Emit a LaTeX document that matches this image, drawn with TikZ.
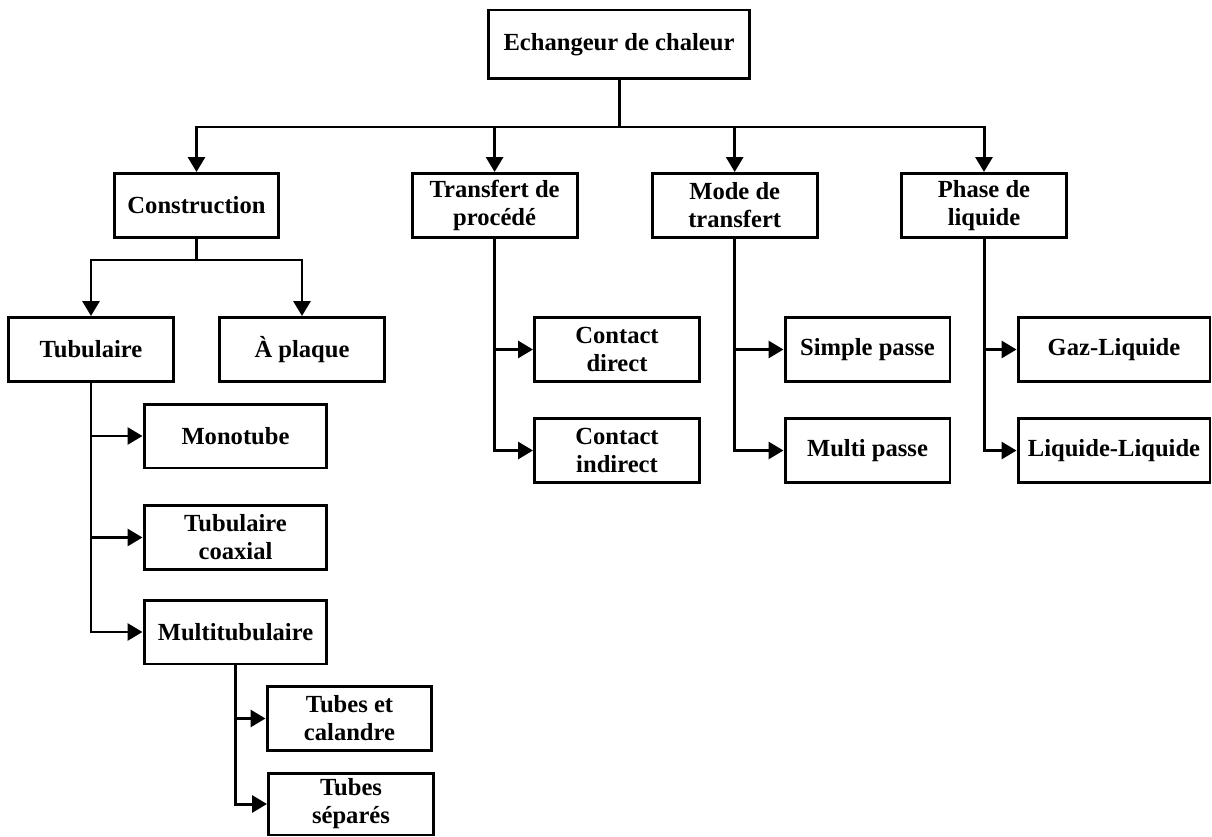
\documentclass[tikz,border=0pt]{standalone}
\usepackage{fontspec}
\setmainfont{Liberation Serif}
\usetikzlibrary{arrows.meta}

\begin{document}
\begin{tikzpicture}[x=0.02cm,y=-0.02cm,line width=1.7pt,font=\bfseries\fontsize{14}{16}\selectfont,
  box/.style={draw,align=center,inner sep=0pt,minimum width=3.3cm,minimum height=1.28cm},
  arr/.style={-{Triangle[length=0.3cm,width=0.34cm]}}]
\useasboundingbox (0,0) rectangle (1212,837);
\node[box,minimum width=5.24cm,minimum height=1.38cm] (ech) at (619,44.5) {Echangeur de chaleur};
\node[box] (constr) at (196.5,205.5) {Construction};
\node[box] (transf) at (494.6,205.5) {Transfert de\\procédé};
\node[box] (mode) at (734.7,205.5) {Mode de\\transfert};
\node[box] (phase) at (984,205.5) {Phase de\\liquide};
\node[box] (tubul) at (91,349.5) {Tubulaire};
\node[box] (plaque) at (302,349.5) {À plaque};
\node[box] (cdir) at (617,349.5) {Contact\\direct};
\node[box] (cindir) at (617,450.5) {Contact\\indirect};
\node[box] (simple) at (867.5,349.5) {Simple passe};
\node[box] (multi) at (867.5,450.5) {Multi passe};
\node[box,minimum width=3.84cm] (gaz) at (1114,349.5) {Gaz-Liquide};
\node[box,minimum width=3.84cm] (liqliq) at (1114,450.5) {Liquide-Liquide};
\node[box,minimum width=3.66cm] (mono) at (235.5,436) {Monotube};
\node[box,minimum width=3.66cm] (coax) at (235.5,537.5) {Tubulaire\\coaxial};
\node[box,minimum width=3.66cm] (multitub) at (235.5,632) {Multitubulaire};
\node[box] (caland) at (349.5,718.5) {Tubes et\\calandre};
\node[box,minimum height=1.24cm] (separ) at (351,804) {Tubes\\séparés};
\coordinate (hub) at (619,127);
\coordinate (chub) at (196.5,260);
\draw (ech) -- (hub);
\draw[arr] (hub) -| (constr);
\draw[arr] (hub) -| (transf);
\draw[arr] (hub) -| (mode);
\draw[arr] (hub) -| (phase);
\draw (constr) -- (chub);
\draw[arr] (chub) -| (tubul);
\draw[arr] (chub) -| (plaque);
\draw[arr] (tubul) |- (mono);
\draw[arr] (tubul) |- (coax);
\draw[arr] (tubul) |- (multitub);
\draw[arr] (multitub) |- (caland);
\draw[arr] (multitub) |- (separ);
\draw[arr] (transf) |- (cdir);
\draw[arr] (transf) |- (cindir);
\draw[arr] (mode) |- (simple);
\draw[arr] (mode) |- (multi);
\draw[arr] (phase) |- (gaz);
\draw[arr] (phase) |- (liqliq);
\end{tikzpicture}
\end{document}
